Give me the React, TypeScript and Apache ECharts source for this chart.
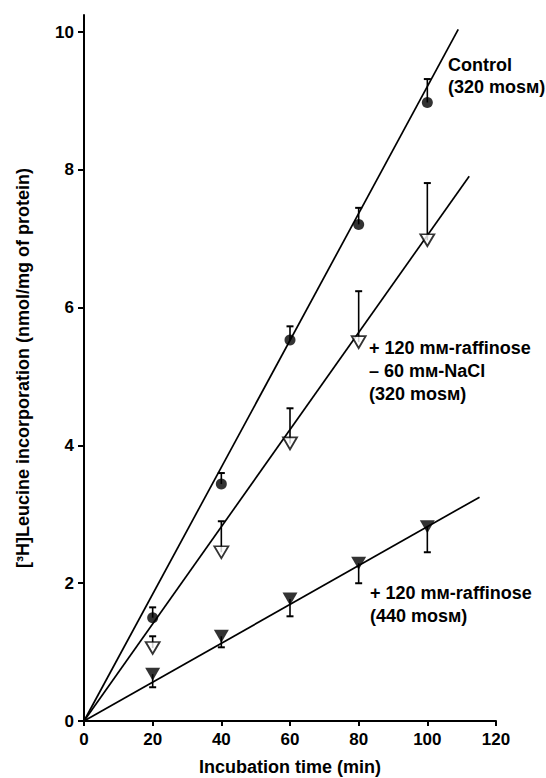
import React, { useEffect, useRef } from "react";
import * as echarts from "echarts";

const xTickValues = [0, 20, 40, 60, 80, 100, 120];
const yTickValues = [0, 2, 4, 6, 8, 10];
const times = [20, 40, 60, 80, 100];
const controlMean = [1.5, 3.44, 5.53, 7.21, 8.98];
const controlErrTop = [1.65, 3.6, 5.73, 7.45, 9.32];
const nacMean = [1.06, 2.45, 4.03, 5.5, 6.98];
const nacErrTop = [1.23, 2.9, 4.54, 6.24, 7.81];
const raffMean = [0.68, 1.23, 1.77, 2.29, 2.82];
const raffErrBottom = [0.49, 1.07, 1.52, 2.0, 2.45];
const controlLine = [[0, 0], [109, 10.04]];
const nacLine = [[0, 0], [112.2, 7.91]];
const raffLine = [[0, 0], [115.2, 3.25]];
const labelControl = ["Control", "(320 mosм)"];
const labelNac = ["+ 120 mм-raffinose", "– 60 mм-NaCl", "(320 mosм)"];
const labelRaff = ["+ 120 mм-raffinose", "(440 mosм)"];

const FONT = "'Liberation Sans', Arial, sans-serif";

function errSeries(means: number[], ends: number[]) {
  return {
    type: "custom",
    z: 1,
    silent: true,
    data: times.map((t, i) => [t, means[i], ends[i]]),
    renderItem: (params: any, api: any) => {
      const p0 = api.coord([api.value(0), api.value(1)]);
      const p1 = api.coord([api.value(0), api.value(2)]);
      return {
        type: "group",
        children: [
          {
            type: "line",
            shape: { x1: p0[0], y1: p0[1], x2: p1[0], y2: p1[1] },
            style: { stroke: "#000", lineWidth: 1.6 },
          },
          {
            type: "line",
            shape: { x1: p1[0] - 3.5, y1: p1[1], x2: p1[0] + 3.5, y2: p1[1] },
            style: { stroke: "#000", lineWidth: 2 },
          },
        ],
      };
    },
  };
}

function lineSeries(pts: number[][]) {
  return {
    type: "line",
    z: 2,
    data: pts,
    symbol: "none",
    lineStyle: { color: "#000", width: 1.7 },
    silent: true,
  };
}

function textBlock(lines: string[], left: number, top: number, gap: number) {
  return lines.map((s, i) => ({
    type: "text",
    left,
    top: top + i * gap,
    style: { text: s, fill: "#000", font: `bold 18px ${FONT}` },
  }));
}

export default function App() {
  const ref = useRef<HTMLDivElement>(null);
  useEffect(() => {
    if (!ref.current) return;
    const chart = echarts.init(ref.current, null, { renderer: "svg" });
    chart.setOption({
      animation: false,
      backgroundColor: "#fff",
      grid: { left: 84, right: 50, top: 15, bottom: 57, containLabel: false, outerBoundsMode: "none" },
      xAxis: {
        type: "value",
        min: 0,
        max: 120,
        interval: 20,
        name: "Incubation time (min)",
        nameLocation: "middle",
        nameGap: 37,
        nameTextStyle: { fontFamily: FONT, fontWeight: "bold", fontSize: 18, color: "#000" },
        axisLine: { show: true, lineStyle: { color: "#000", width: 2 } },
        axisTick: { show: true, length: 5, lineStyle: { color: "#000", width: 2 }, customValues: xTickValues },
        axisLabel: { fontFamily: FONT, fontWeight: "bold", fontSize: 17, color: "#000", margin: 10, customValues: xTickValues },
        splitLine: { show: false },
      },
      yAxis: {
        type: "value",
        min: 0,
        max: 10.25,
        interval: 2,
        name: "[³H]Leucine incorporation (nmol/mg of protein)",
        nameLocation: "middle",
        nameGap: 52,
        nameTextStyle: { fontFamily: FONT, fontWeight: "bold", fontSize: 18, color: "#000" },
        axisLine: { show: true, lineStyle: { color: "#000", width: 2 } },
        axisTick: { show: true, length: 6, lineStyle: { color: "#000", width: 2 }, customValues: yTickValues },
        axisLabel: { fontFamily: FONT, fontWeight: "bold", fontSize: 17, color: "#000", margin: 10, customValues: yTickValues },
        splitLine: { show: false },
      },
      graphic: [
        ...textBlock(labelControl, 448, 56, 22),
        ...textBlock(labelNac, 369, 339, 23),
        ...textBlock(labelRaff, 370, 584, 23),
      ],
      series: [
        lineSeries(controlLine),
        lineSeries(nacLine),
        lineSeries(raffLine),
        errSeries(controlMean, controlErrTop),
        errSeries(nacMean, nacErrTop),
        errSeries(raffMean, raffErrBottom),
        {
          type: "scatter",
          z: 3,
          data: times.map((t, i) => [t, controlMean[i]]),
          symbol: "circle",
          symbolSize: 11,
          itemStyle: { color: "#000" },
        },
        {
          type: "scatter",
          z: 3,
          data: times.map((t, i) => [t, nacMean[i]]),
          symbol: "triangle",
          symbolRotate: 180,
          symbolSize: [14, 12],
          itemStyle: { color: "#fff", borderColor: "#000", borderWidth: 1.8 },
        },
        {
          type: "scatter",
          z: 3,
          data: times.map((t, i) => [t, raffMean[i]]),
          symbol: "triangle",
          symbolRotate: 180,
          symbolSize: [15, 13],
          itemStyle: { color: "#000" },
        },
      ],
    });
    return () => chart.dispose();
  }, []);
  return (
    <div
      ref={ref}
      style={{ position: "fixed", left: 0, top: 0, width: 546, height: 778, background: "#fff" }}
    />
  );
}
